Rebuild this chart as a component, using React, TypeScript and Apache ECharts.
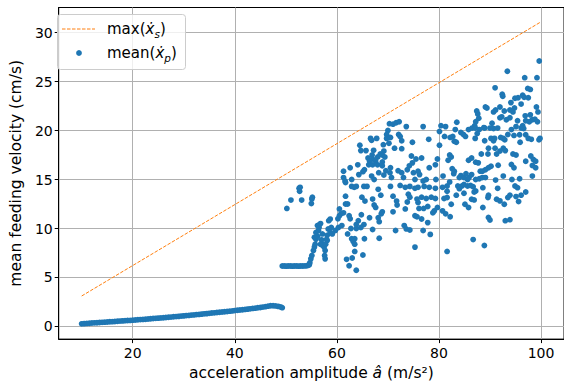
import { useEffect, useRef } from "react";
import * as echarts from "echarts";

// ---- data ----
const maxLineX = [10, 100];
const maxLineY = [3.11, 31.1];

const curveX = [
  10, 10.5, 11, 11.5, 12, 12.5, 13, 13.5, 14, 14.5, 15, 15.5, 16, 16.5, 17, 17.5, 18, 18.5, 19, 19.5,
  20, 20.5, 21, 21.5, 22, 22.5, 23, 23.5, 24, 24.5, 25, 25.5, 26, 26.5, 27, 27.5, 28, 28.5, 29, 29.5,
  30, 30.5, 31, 31.5, 32, 32.5, 33, 33.5, 34, 34.5, 35, 35.5, 36, 36.5, 37, 37.5, 38, 38.5, 39, 39.5,
  40, 40.5, 41, 41.5, 42, 42.5, 43, 43.5, 44, 44.5, 45, 45.5, 46, 46.5, 47, 47.5, 48, 48.5, 49, 49.3,
];
const curveY = [
  0.27, 0.29, 0.31, 0.33, 0.35, 0.37, 0.38, 0.4, 0.42, 0.44, 0.46, 0.48, 0.49, 0.51, 0.53, 0.55, 0.57, 0.59, 0.61, 0.62,
  0.64, 0.66, 0.68, 0.7, 0.72, 0.74, 0.76, 0.79, 0.81, 0.83, 0.85, 0.87, 0.89, 0.92, 0.94, 0.96, 0.99, 1.01, 1.03, 1.06,
  1.08, 1.11, 1.13, 1.16, 1.18, 1.21, 1.23, 1.26, 1.29, 1.31, 1.34, 1.37, 1.39, 1.42, 1.45, 1.48, 1.5, 1.53, 1.56, 1.59,
  1.62, 1.65, 1.68, 1.71, 1.74, 1.77, 1.8, 1.84, 1.87, 1.91, 1.94, 1.98, 2.02, 2.07, 2.11, 2.12, 2.1, 2.05, 1.99, 1.92,
];

const flatX = [49.3, 49.7, 50.1, 50.5, 50.9, 51.3, 51.7, 52.1, 52.5, 52.9, 53.3, 53.7, 54.1, 54.4, 54.6];
const flatY = [6.17, 6.17, 6.16, 6.17, 6.17, 6.16, 6.17, 6.17, 6.16, 6.17, 6.17, 6.18, 6.2, 6.25, 6.3];

const scatterPts: [number, number][] = [
  [50.2, 12.05], [51.0, 12.9], [52.6, 14.1], [52.8, 14.2], [52.7, 13.8], [53.1, 12.9], [55.2, 13.2], [55.1, 13.0], [55.0, 12.55],
  [54.7, 6.5], [54.9, 6.9], [55.1, 7.25], [55.4, 7.76], [55.6, 8.1], [55.75, 8.4], [55.9, 8.9], [55.6, 9.1], [56.2, 9.2],
  [55.9, 9.6], [56.4, 9.8], [56.5, 10.1], [56.2, 10.3], [56.6, 10.4], [56.8, 10.5], [57.15, 9.45], [57.0, 8.84], [57.3, 8.4],
  [57.5, 8.1], [57.7, 7.76], [57.6, 7.25], [57.7, 6.9], [58.1, 9.3], [58.3, 9.95], [58.4, 10.8], [58.7, 10.96], [58.9, 10.1],
  [58.7, 9.6], [58.1, 8.77], [56.8, 8.4], [57.15, 8.3], [57.8, 8.4], [58.0, 8.9],
  [70.3, 20.7], [71.0, 20.65], [71.6, 20.8], [72.2, 20.9], [73.6, 20.4], [70.0, 20.0], [69.75, 19.6], [76.9, 20.4], [80.4, 20.5],
  [80.1, 19.9], [80.1, 18.5], [72.1, 19.6], [72.4, 19.4], [72.7, 18.96], [66.6, 19.2], [66.8, 19.0], [67.8, 19.2], [69.75, 19.2],
  [70.5, 19.3], [70.2, 18.7], [69.1, 18.56], [74.8, 18.8], [78.0, 19.1], [64.5, 18.5], [64.7, 17.95], [65.7, 17.95], [67.2, 17.98],
  [71.3, 18.2], [72.7, 18.15], [69.2, 17.9], [68.5, 17.6], [68.9, 17.5], [69.4, 17.3], [68.0, 17.3], [66.9, 17.5], [66.1, 17.2],
  [67.0, 17.1], [66.4, 16.9], [67.6, 16.9], [68.9, 16.8], [74.6, 17.4], [75.5, 17.1], [76.6, 17.2], [74.8, 16.7], [79.7, 17.1],
  [79.3, 16.5], [78.1, 16.2], [64.1, 16.5], [62.6, 16.2], [61.3, 15.85], [65.4, 16.0], [66.25, 16.5], [67.0, 16.5], [67.97, 16.5],
  [68.9, 16.4], [70.5, 16.2], [70.4, 15.7], [69.6, 15.9], [69.2, 15.45], [68.2, 15.7], [66.8, 15.35], [67.3, 15.0], [65.1, 15.8],
  [64.3, 15.5], [61.3, 15.2], [61.6, 14.85], [62.9, 15.0], [70.7, 15.2], [72.0, 15.9], [72.7, 15.7], [73.8, 16.0], [73.05, 15.2],
  [74.2, 16.4], [75.0, 15.7], [75.9, 15.85], [76.2, 15.5], [75.3, 15.0], [76.9, 14.85], [77.5, 15.0], [79.4, 15.0],
  [61.7, 14.7], [62.9, 14.3], [63.4, 14.2], [63.8, 14.3], [65.3, 14.3], [65.9, 14.3], [68.1, 14.0], [70.5, 14.3], [72.4, 14.4],
  [73.4, 14.2], [74.3, 14.3], [75.3, 14.1], [75.9, 14.2], [77.1, 14.3], [78.1, 14.2], [79.3, 14.1], [80.7, 14.2], [81.6, 13.8],
  [61.7, 13.3], [64.9, 13.2], [65.5, 12.8], [67.0, 13.0], [68.6, 13.4], [71.0, 13.3], [71.7, 12.8], [74.0, 13.5], [74.3, 13.2],
  [73.8, 12.7], [75.7, 13.0], [76.6, 13.2], [77.5, 13.06], [78.5, 13.2], [79.3, 13.06], [81.0, 13.06], [61.7, 12.5], [62.1, 12.5],
  [67.3, 12.4], [67.6, 12.15], [68.9, 11.7], [68.7, 11.5], [71.0, 11.7], [71.8, 12.4], [73.4, 12.0], [75.9, 12.65], [76.1, 12.05],
  [77.0, 12.05], [77.8, 12.25], [78.8, 11.6], [79.1, 11.8], [79.7, 12.15], [80.7, 11.8], [81.3, 11.5], [81.6, 13.16],
  [60.5, 12.0], [60.8, 11.5], [60.5, 11.3], [60.2, 11.0], [61.3, 11.6], [62.6, 11.0], [62.4, 11.3], [64.8, 11.4], [66.4, 11.1],
  [68.1, 11.1], [68.3, 10.7], [64.2, 10.8], [65.3, 10.4], [64.7, 10.1], [63.8, 10.0], [63.8, 10.4], [62.75, 10.0], [60.3, 10.1],
  [59.7, 9.8], [59.1, 9.45], [60.97, 10.3], [62.1, 9.45], [62.9, 8.95], [63.5, 8.95], [63.2, 8.67], [63.5, 8.4], [65.4, 8.95],
  [67.0, 9.9], [68.3, 9.0], [71.5, 9.8], [73.2, 10.3], [73.6, 9.96], [74.3, 9.85], [75.3, 11.3], [75.7, 11.2], [76.6, 10.97],
  [77.8, 10.6], [76.9, 9.8], [78.3, 9.4], [75.3, 8.1], [63.5, 7.66], [65.1, 7.3], [61.9, 6.85], [63.0, 6.99], [62.4, 6.2],
  [63.8, 5.74], [81.6, 7.66],
  [99.65, 27.1], [93.4, 26.05], [96.8, 25.4], [99.2, 25.4], [91.0, 24.36], [92.4, 23.7], [92.5, 23.5], [97.4, 24.3], [97.9, 24.2],
  [96.4, 23.6], [96.7, 23.4], [97.5, 23.35], [94.9, 23.3], [95.5, 23.35], [94.1, 22.85], [96.1, 22.7], [89.1, 22.4], [89.4, 22.3],
  [91.95, 22.4], [87.4, 22.0], [87.6, 21.7], [87.8, 21.25], [90.7, 21.9], [91.1, 22.1], [92.8, 22.0], [93.9, 22.1], [94.8, 22.3],
  [94.5, 21.9], [99.1, 22.4], [99.4, 21.9], [97.9, 21.6], [96.9, 21.5], [98.3, 21.1], [97.0, 21.0], [97.7, 20.9], [98.8, 21.15],
  [99.3, 20.9], [91.95, 21.3], [92.3, 21.4], [93.2, 21.1], [93.9, 21.3], [95.4, 21.0], [96.4, 20.5], [96.1, 20.25], [96.6, 20.2],
  [90.4, 20.75], [90.0, 20.25], [87.2, 20.9], [87.0, 20.5], [88.8, 20.3], [83.5, 20.85], [81.3, 20.4], [83.2, 20.1], [84.3, 19.8],
  [84.8, 19.6], [85.8, 20.1], [86.5, 20.25], [87.1, 20.25], [87.9, 20.1], [87.5, 19.7], [88.96, 20.25], [90.7, 20.2], [91.5, 20.25],
  [94.2, 20.1], [95.1, 20.4], [94.7, 19.5], [95.8, 19.57], [97.0, 19.57], [97.5, 19.2], [98.1, 19.1], [99.8, 19.2], [99.6, 19.06],
  [85.2, 19.4], [87.1, 19.2], [90.2, 19.2], [90.9, 19.2], [92.1, 19.3], [92.6, 19.2], [93.5, 19.6], [81.1, 19.4], [82.2, 19.3],
  [82.7, 19.4], [83.0, 18.9], [83.4, 18.8], [88.96, 18.96], [90.7, 18.96], [92.9, 19.06], [95.9, 18.8], [89.7, 18.2], [91.0, 18.2],
  [92.6, 18.2], [93.0, 17.95], [91.95, 17.9], [94.5, 17.6], [95.1, 17.5], [89.6, 17.6], [91.3, 17.6], [88.3, 17.6], [86.4, 17.2],
  [82.1, 17.5], [82.4, 17.3], [98.0, 17.4],
  [81.8, 16.97], [85.8, 16.97], [87.2, 16.77], [87.7, 16.7], [97.0, 16.87], [98.5, 17.04], [98.95, 16.87], [94.2, 16.53],
  [94.7, 16.2], [98.3, 16.43], [98.95, 16.2], [91.6, 16.46], [90.2, 16.36], [89.7, 16.2], [89.1, 16.0], [88.5, 15.85], [88.1, 15.85],
  [82.6, 16.1], [83.0, 15.85], [82.9, 15.6], [84.3, 15.4], [84.0, 15.2], [84.9, 15.2], [85.3, 15.6], [85.6, 15.0], [85.9, 15.2],
  [86.4, 15.5], [87.2, 15.0], [87.9, 15.08], [88.5, 15.2], [89.1, 15.2], [92.6, 15.35], [91.1, 14.94], [94.3, 15.0], [95.8, 15.08],
  [98.3, 15.35], [80.8, 15.35], [81.6, 14.34], [82.1, 14.74], [83.7, 14.34], [84.0, 14.07], [84.5, 14.34], [84.9, 14.5], [85.6, 14.34],
  [86.2, 14.4], [86.7, 14.27], [87.2, 13.83], [86.9, 13.73], [83.4, 13.4], [84.9, 13.6], [88.6, 14.17], [91.5, 14.1], [94.9, 14.34],
  [95.4, 14.17], [97.0, 13.73], [96.1, 13.4], [95.1, 13.26], [82.4, 12.48], [85.1, 12.48], [85.8, 12.14], [86.4, 12.99], [86.9, 12.92],
  [89.7, 13.4], [89.6, 13.16], [91.3, 12.99], [91.95, 12.82], [92.8, 12.48], [93.5, 13.16], [93.9, 13.4], [95.6, 12.75], [88.6, 12.14],
  [82.2, 11.2], [89.7, 11.13], [90.0, 10.86], [93.0, 10.8], [93.9, 10.9], [86.7, 8.87], [88.9, 8.26],
];

const xTicks = [20, 40, 60, 80, 100];
const yTicks = [0, 5, 10, 15, 20, 25, 30];
const xRange = [5.5, 104.5];
const yRange = [-1.29, 32.56];

const BLUE = "#1f77b4";
const ORANGE = "#ff7f0e";
const FONT = "DejaVu Sans";

export default function App() {
  const ref = useRef<HTMLDivElement>(null);
  useEffect(() => {
    if (!ref.current) return;
    const chart = echarts.init(ref.current, undefined, { renderer: "svg" });
    const meanData = [
      ...curveX.map((x, i) => [x, curveY[i]]),
      ...flatX.map((x, i) => [x, flatY[i]]),
      ...scatterPts,
    ];
    const axisCommon = {
      type: "value" as const,
      axisLine: { show: true, onZero: false, lineStyle: { color: "#000", width: 1 } },
      axisTick: { show: true, length: 4, lineStyle: { color: "#000", width: 1 } },
      splitLine: { show: true, lineStyle: { color: "#b0b0b0", width: 1 } },
    };
    const legendRich = {
      n: { fontFamily: FONT, fontSize: 15, lineHeight: 20, fill: "#000" },
      i: { fontFamily: FONT, fontSize: 15, fontStyle: "italic", lineHeight: 20, fill: "#000" },
      s: { fontFamily: FONT, fontSize: 10.5, fontStyle: "italic", lineHeight: 10, verticalAlign: "bottom", fill: "#000" },
    };
    chart.setOption({
      animation: false,
      backgroundColor: "#fff",
      textStyle: { fontFamily: FONT },
      grid: {
        left: 49.3,
        top: 7.5,
        width: 518.7,
        height: 335.2,
        show: true,
        borderColor: "#000",
        borderWidth: 1,
        backgroundColor: "transparent",
      },
      xAxis: {
        ...axisCommon,
        min: xRange[0],
        max: xRange[1],
        axisTick: { ...axisCommon.axisTick, customValues: xTicks },
        axisLabel: { customValues: xTicks, fontSize: 14, color: "#000", fontFamily: FONT, margin: 7 },
        name: "acceleration amplitude {i|â} (m/s²)",
        nameLocation: "middle",
        nameGap: 21,
        nameTextStyle: {
          fontFamily: FONT,
          fontSize: 15.5,
          color: "#000",
          verticalAlign: "top",
          rich: { i: { fontFamily: FONT, fontSize: 15.5, fontStyle: "italic", color: "#000" } },
        },
      },
      yAxis: {
        ...axisCommon,
        min: yRange[0],
        max: yRange[1],
        axisTick: { ...axisCommon.axisTick, customValues: yTicks },
        axisLabel: { customValues: yTicks, fontSize: 14, color: "#000", fontFamily: FONT, margin: 6 },
        name: "mean feeding velocity (cm/s)",
        nameLocation: "middle",
        nameGap: 23,
        nameTextStyle: { fontFamily: FONT, fontSize: 15.5, color: "#000" },
      },
      series: [
        {
          type: "line",
          name: "max",
          data: maxLineX.map((x, i) => [x, maxLineY[i]]),
          showSymbol: false,
          symbol: "none",
          lineStyle: { color: ORANGE, width: 1, type: [3.5, 1.5] },
          z: 2,
        },
        {
          type: "scatter",
          name: "mean",
          data: meanData,
          symbolSize: 5.8,
          itemStyle: { color: BLUE, opacity: 1 },
          z: 3,
        },
      ],
      graphic: [
        {
          type: "rect",
          z: 100,
          shape: { x: 57.5, y: 14.5, width: 128, height: 55, r: 3 },
          style: { fill: "rgba(255,255,255,0.8)", stroke: "#cccccc", lineWidth: 1 },
        },
        {
          type: "line",
          z: 101,
          shape: { x1: 62, y1: 29, x2: 95, y2: 29 },
          style: { stroke: ORANGE, lineWidth: 1, lineDash: [3.5, 1.5] },
        },
        {
          type: "circle",
          z: 101,
          shape: { cx: 79, cy: 53, r: 2.9 },
          style: { fill: BLUE },
        },
        {
          type: "text",
          z: 101,
          x: 107,
          y: 29,
          style: {
            text: "{n|max(}{i|ẋ}{s|s}{n|)}",
            verticalAlign: "middle",
            fill: "#000",
            fontFamily: FONT,
            fontSize: 15,
            rich: legendRich,
          },
        },
        {
          type: "text",
          z: 101,
          x: 107,
          y: 53,
          style: {
            text: "{n|mean(}{i|ẋ}{s|p}{n|)}",
            verticalAlign: "middle",
            fill: "#000",
            fontFamily: FONT,
            fontSize: 15,
            rich: legendRich,
          },
        },
      ],
    });
    return () => chart.dispose();
  }, []);
  return (
    <div
      ref={ref}
      style={{ position: "fixed", left: 0, top: 0, width: 564, height: 386, background: "#fff" }}
    />
  );
}
